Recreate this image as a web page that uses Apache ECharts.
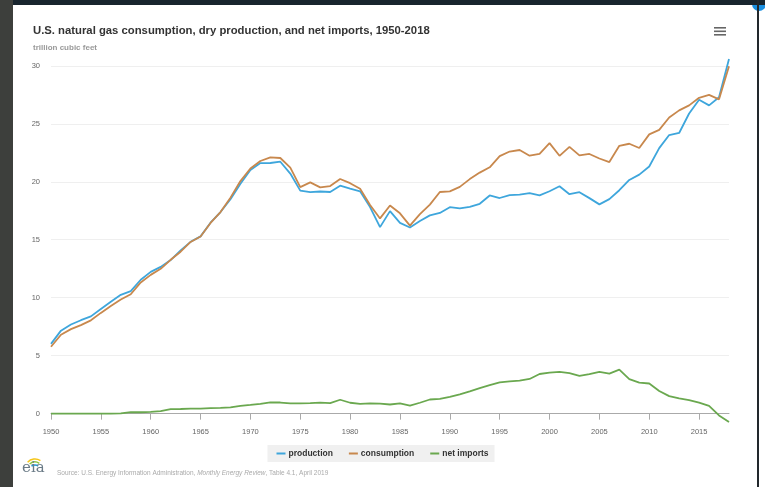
<!DOCTYPE html>
<html>
<head>
<meta charset="utf-8">
<script src="https://cdn.jsdelivr.net/npm/echarts@6/dist/echarts.min.js"></script>
<style>
  body { margin: 0; background: #fff; }
  #wrap { position: relative; width: 765px; height: 487px; overflow: hidden; }
  #main { position: absolute; left: 0; top: 0; width: 765px; height: 487px; }
  .frame { position: absolute; }
</style>
</head>
<body>
<div id="wrap">
  <div id="main"></div>
  <div class="frame" style="left:0;top:0;width:765px;height:5px;background:#18252e"></div>
  <div class="frame" style="left:0;top:0;width:13px;height:487px;background:#3d3f3c"></div>
  <div class="frame" style="left:757px;top:0;width:2px;height:487px;background:#22282c"></div>
</div>
<script>
const years = []
for (let y = 1950; y <= 2018; y++) years.push(y)

const production = [
  6.02, 7.16, 7.69, 8.06, 8.39, 9.03, 9.66, 10.25, 10.57, 11.55,
  12.23, 12.66, 13.25, 14.08, 14.82, 15.29, 16.47, 17.39, 18.49, 19.83,
  21.01, 21.61, 21.62, 21.73, 20.71, 19.24, 19.10, 19.16, 19.12, 19.66,
  19.40, 19.18, 17.82, 16.09, 17.47, 16.45, 16.06, 16.62, 17.10, 17.31,
  17.81, 17.70, 17.84, 18.10, 18.82, 18.60, 18.85, 18.90, 19.02, 18.83,
  19.18, 19.62, 18.93, 19.10, 18.59, 18.05, 18.50, 19.27, 20.16, 20.62,
  21.32, 22.90, 24.03, 24.21, 25.89, 27.07, 26.59, 27.29, 30.59
]
const consumption = [
  5.77, 6.81, 7.29, 7.64, 8.05, 8.69, 9.29, 9.85, 10.30, 11.32,
  11.97, 12.49, 13.27, 13.97, 14.81, 15.28, 16.45, 17.39, 18.63, 20.06,
  21.14, 21.79, 22.10, 22.05, 21.22, 19.54, 19.95, 19.52, 19.63, 20.24,
  19.88, 19.40, 18.00, 16.84, 17.95, 17.28, 16.22, 17.21, 18.03, 19.12,
  19.17, 19.56, 20.23, 20.79, 21.25, 22.21, 22.61, 22.74, 22.25, 22.40,
  23.33, 22.24, 23.01, 22.28, 22.40, 22.01, 21.70, 23.10, 23.28, 22.91,
  24.09, 24.48, 25.54, 26.16, 26.59, 27.24, 27.49, 27.11, 29.96
]
const netImports = [
  0.00, 0.00, 0.00, 0.00, 0.00, 0.00, 0.00, 0.03, 0.13, 0.12,
  0.16, 0.22, 0.39, 0.40, 0.44, 0.44, 0.48, 0.50, 0.55, 0.67,
  0.75, 0.85, 0.97, 0.96, 0.89, 0.89, 0.90, 0.95, 0.91, 1.20,
  0.94, 0.85, 0.88, 0.86, 0.79, 0.89, 0.69, 0.94, 1.22, 1.28,
  1.45, 1.67, 1.92, 2.21, 2.46, 2.69, 2.78, 2.84, 2.99, 3.42,
  3.54, 3.60, 3.50, 3.26, 3.40, 3.61, 3.46, 3.79, 2.98, 2.68,
  2.60, 1.96, 1.51, 1.31, 1.17, 0.95, 0.67, -0.15, -0.72
]

const xTicks = [1950, 1955, 1960, 1965, 1970, 1975, 1980, 1985, 1990, 1995, 2000, 2005, 2010, 2015]
const yTicks = [0, 5, 10, 15, 20, 25, 30]

const pairs = (list) => years.map((y, i) => [y, list[i]])

const myChart = echarts.init(document.getElementById('main'))

const option = {
  animation: false,
  title: {
    text: 'U.S. natural gas consumption, dry production, and net imports, 1950-2018',
    subtext: 'trillion cubic feet',
    left: 28,
    top: 20,
    itemGap: 8,
    textStyle: { fontFamily: 'Liberation Sans', fontSize: 11.3, fontWeight: 'bold', color: '#333' },
    subtextStyle: { fontFamily: 'Liberation Sans', fontSize: 8, fontWeight: 'bold', color: '#999' }
  },
  legend: {
    bottom: 25,
    left: 'center',
    backgroundColor: '#f0f0f0',
    padding: [4, 6, 4, 9],
    itemWidth: 9,
    itemHeight: 2,
    itemGap: 16,
    icon: 'rect',
    textStyle: { fontFamily: 'Liberation Sans', fontSize: 8.5, fontWeight: 'bold', color: '#333', padding: [0, 0, 0, -2] },
    data: ['production', 'consumption', 'net imports']
  },
  grid: { left: 51, right: 36, top: 59, bottom: 65, containLabel: false },
  xAxis: {
    type: 'value',
    min: 1950,
    max: 2018,
    axisLine: { lineStyle: { color: '#aaa' } },
    axisTick: { show: true, length: 6, customValues: xTicks, lineStyle: { color: '#aaa' } },
    axisLabel: {
      customValues: xTicks,
      formatter: (v) => String(v),
      fontFamily: 'Liberation Sans',
      fontSize: 7.5,
      color: '#666',
      margin: 6
    },
    splitLine: { show: false }
  },
  yAxis: {
    type: 'value',
    min: -0.72,
    max: 30.59,
    axisLine: { show: false },
    axisTick: { show: false, customValues: yTicks },
    axisLabel: {
      customValues: yTicks,
      fontFamily: 'Liberation Sans',
      fontSize: 7.5,
      color: '#666',
      margin: 11
    },
    splitLine: { lineStyle: { color: '#efefef' } }
  },
  series: [
    {
      name: 'production',
      type: 'line',
      showSymbol: false,
      color: '#3ea6dc',
      lineStyle: { width: 1.8 },
      data: pairs(production)
    },
    {
      name: 'consumption',
      type: 'line',
      showSymbol: false,
      color: '#c8884d',
      lineStyle: { width: 1.8 },
      data: pairs(consumption)
    },
    {
      name: 'net imports',
      type: 'line',
      showSymbol: false,
      color: '#6aa84f',
      lineStyle: { width: 1.8 },
      data: pairs(netImports)
    }
  ],
  graphic: [
    // hamburger menu
    { type: 'rect', shape: { x: 714, y: 27, width: 12, height: 1.6 }, style: { fill: '#666' } },
    { type: 'rect', shape: { x: 714, y: 30.5, width: 12, height: 1.6 }, style: { fill: '#666' } },
    { type: 'rect', shape: { x: 714, y: 34, width: 12, height: 1.6 }, style: { fill: '#666' } },
    // eia logo
    { type: 'arc', shape: { cx: 35, cy: 469, r: 10, startAngle: -2.4, endAngle: -1.0 }, style: { stroke: '#f5c518', lineWidth: 1.5, fill: null } },
    { type: 'arc', shape: { cx: 35, cy: 470, r: 8, startAngle: -2.3, endAngle: -1.0 }, style: { stroke: '#8cc63f', lineWidth: 1.5, fill: null } },
    { type: 'arc', shape: { cx: 35, cy: 471, r: 6, startAngle: -2.2, endAngle: -1.0 }, style: { stroke: '#1d9bd7', lineWidth: 1.5, fill: null } },
    {
      type: 'text', left: 22, top: 461,
      style: { text: 'eia', font: '15px "DejaVu Serif"', fill: '#6b7b87' }
    },
    {
      type: 'text', left: 57, top: 470,
      style: {
        text: 'Source: U.S. Energy Information Administration, {i|Monthly Energy Review}, Table 4.1, April 2019',
        font: '6.5px "Liberation Sans"',
        fill: '#aaa',
        rich: { i: { fontStyle: 'italic', fontSize: 6.5, fontFamily: 'Liberation Sans', fill: '#aaa' } }
      }
    },
    // corner badge
    { type: 'circle', shape: { cx: 759, cy: 4, r: 7 }, style: { fill: '#1a8fe0' } }
  ]
}

myChart.setOption(option)
</script>
</body>
</html>
